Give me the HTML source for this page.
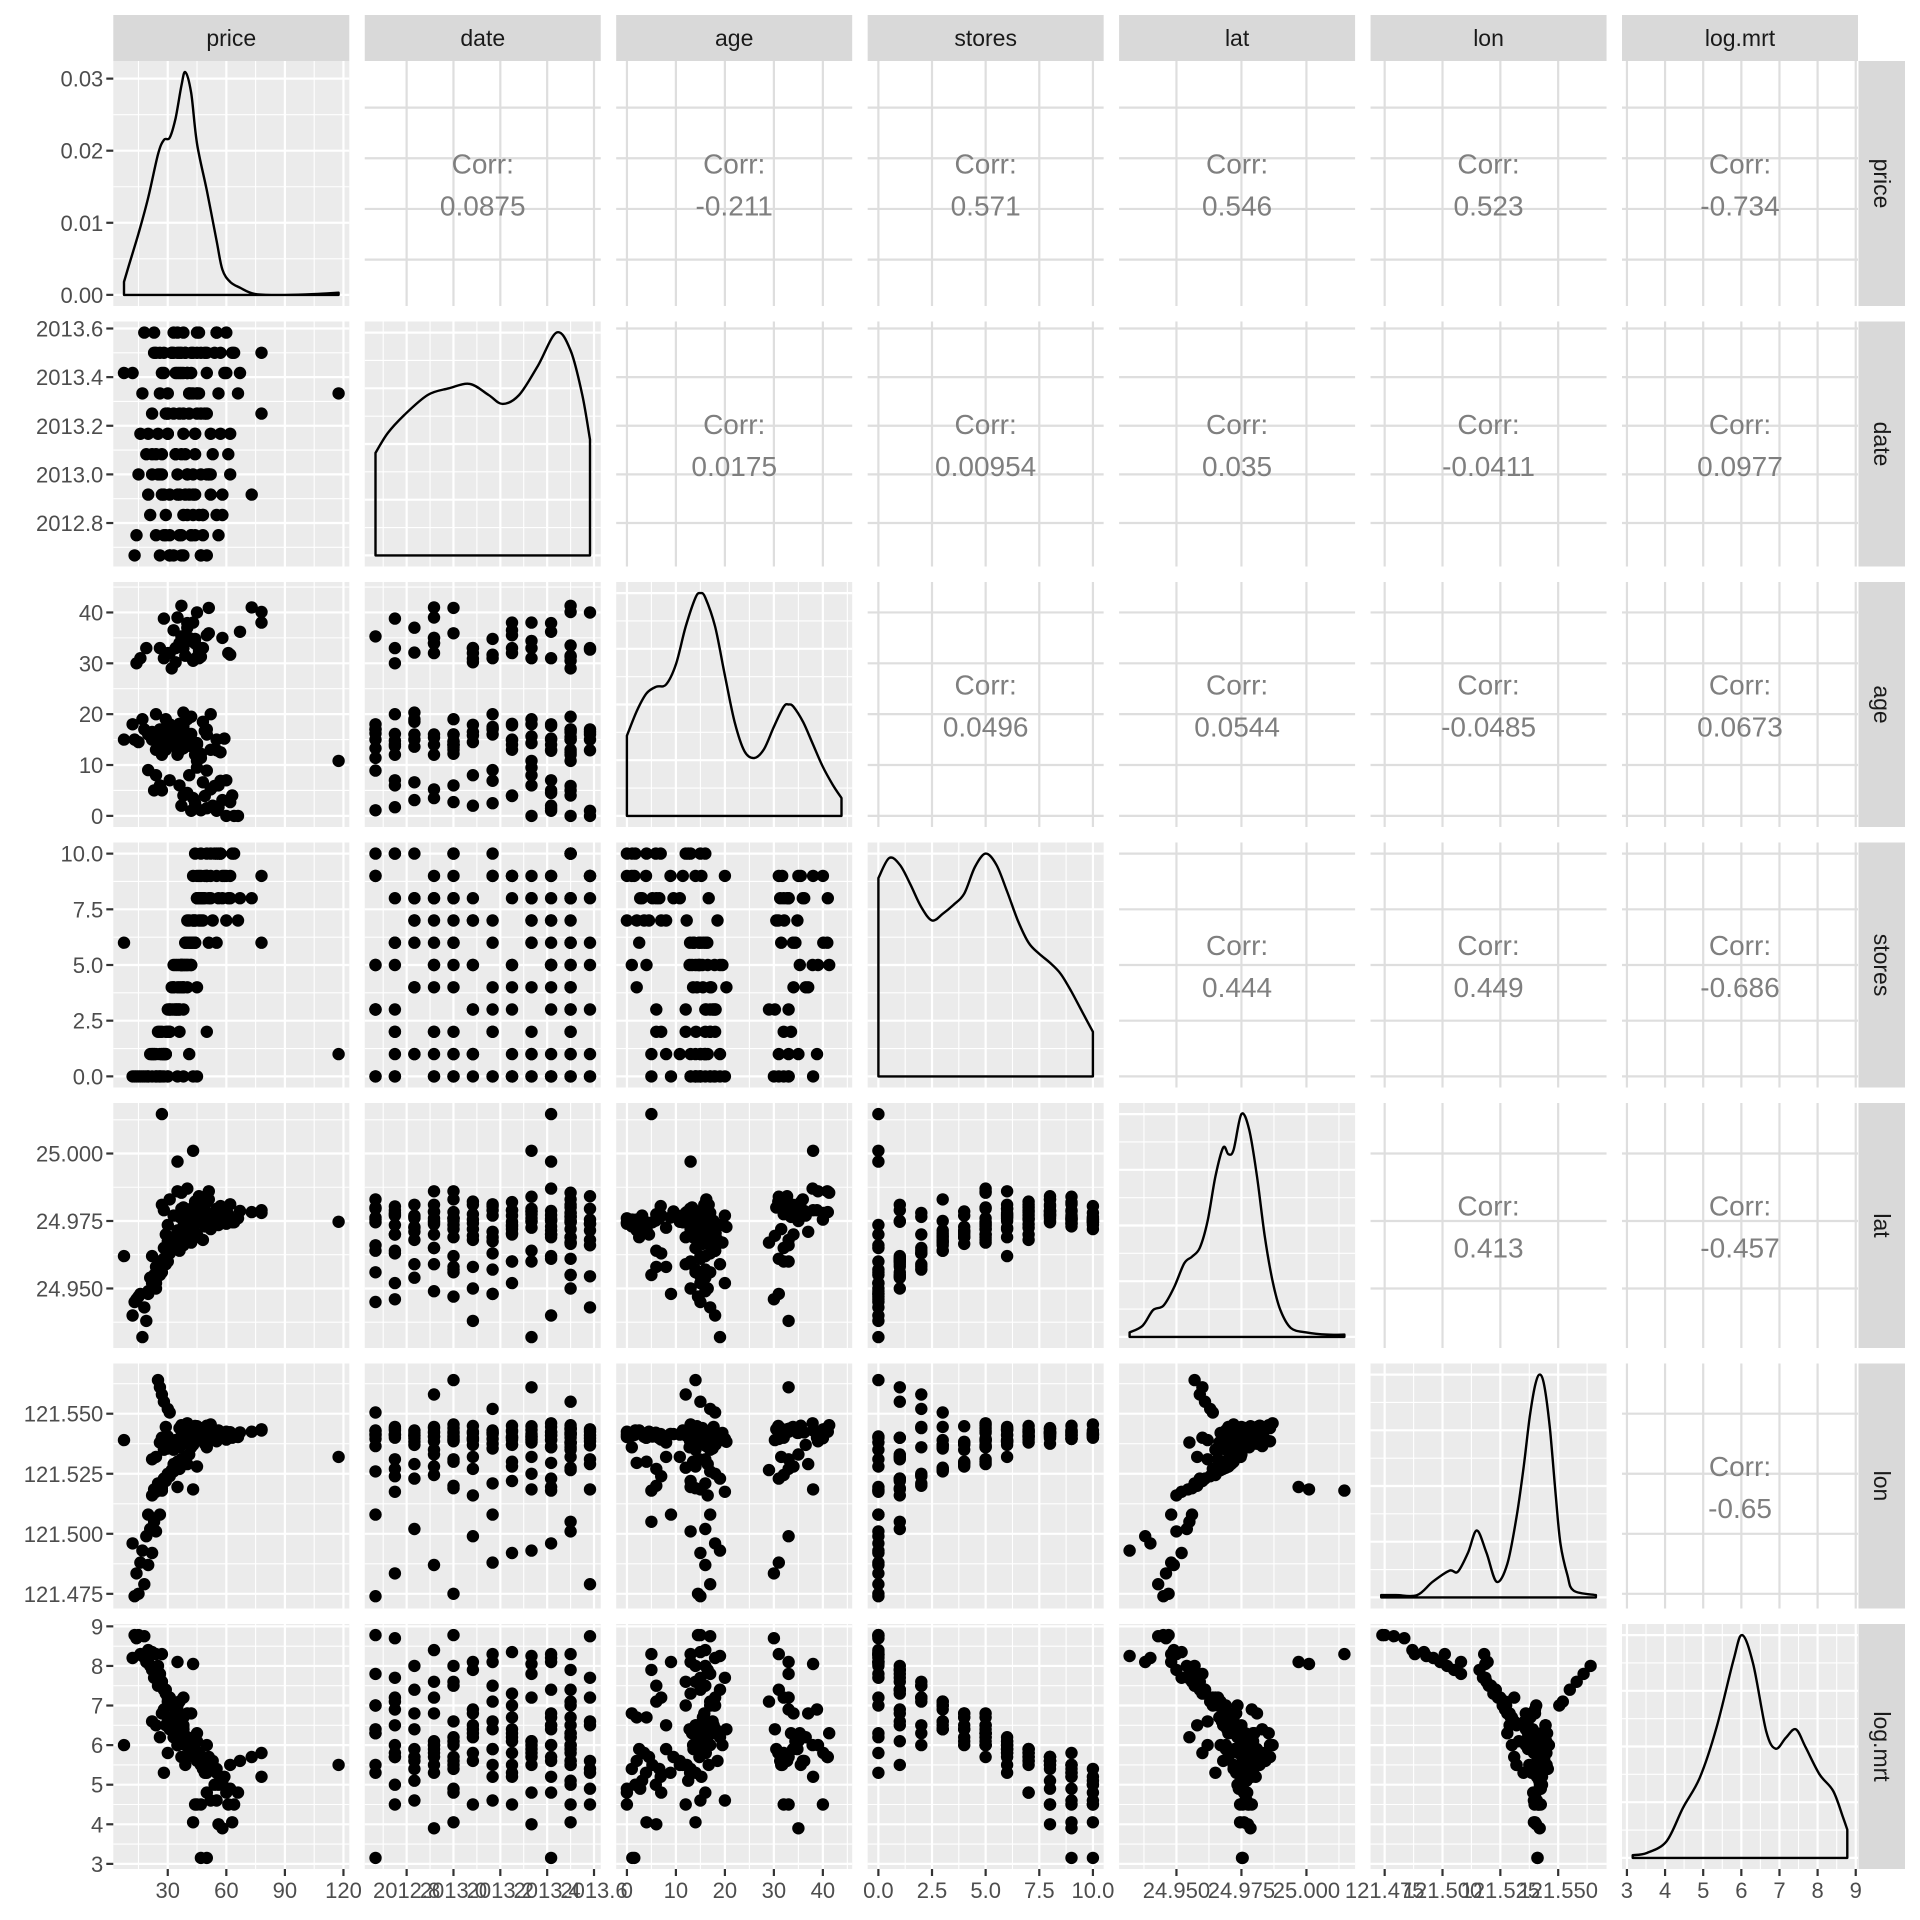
<!DOCTYPE html>
<html><head><meta charset="utf-8"><title>ggpairs</title>
<style>html,body{margin:0;padding:0;background:#fff}svg{display:block}text{font-family:"Liberation Sans",Arial,sans-serif}</style>
</head><body>
<svg id="chart" xmlns="http://www.w3.org/2000/svg" width="1920" height="1920" viewBox="0 0 1920 1920"></svg>
<script>
// ---- data ----
const varNames=['price','date','age','stores','lat','lon','log.mrt'];
const varMin=[7.6,2012.667,0,0,24.93207,121.47353,3.152];
const varMax=[117.5,2013.583,43.8,10,25.01459,121.56627,8.778];
const priceTicks=[30,60,90,120];
const dateTicks=[2012.8,2013.0,2013.2,2013.4,2013.6];
const ageTicks=[0,10,20,30,40];
const storesTicks=[0,2.5,5,7.5,10];
const latTicks=[24.95,24.975,25.0];
const lonTicks=[121.475,121.5,121.525,121.55];
const lmrtTicks=[3,4,5,6,7,8,9];
const priceLabels=['30','60','90','120'];
const dateLabels=['2012.8','2013.0','2013.2','2013.4','2013.6'];
const ageLabels=['0','10','20','30','40'];
const storesLabels=['0.0','2.5','5.0','7.5','10.0'];
const latLabels=['24.950','24.975','25.000'];
const lonLabels=['121.475','121.500','121.525','121.550'];
const lmrtLabels=['3','4','5','6','7','8','9'];
const corrPriceYTicks=[25,50,75,100];
const densTicks=[0,0.01,0.02,0.03];
const densLabels=['0.00','0.01','0.02','0.03'];
const priceDensMax=0.0309;
const corrValues=['0.0875','-0.211','0.571','0.546','0.523','-0.734',
 '0.0175','0.00954','0.035','-0.0411','0.0977',
 '0.0496','0.0544','-0.0485','0.0673',
 '0.444','0.449','-0.686',
 '0.413','-0.457',
 '-0.65'];
const priceDx=[7.6,10,15,20,25,28,31,34,37,39,42,45,50,55,58,62,67,75,90,105,117.5];
const priceDy=[0.0018,0.004,0.0085,0.0135,0.0195,0.0215,0.0218,0.0245,0.029,0.0309,0.028,0.021,0.0145,0.0075,0.0035,0.0018,0.001,0.0001,0.0,0.0001,0.0003];
const dateDx=[2012.667,2012.72,2012.79,2012.89,2012.98,2013.07,2013.15,2013.21,2013.28,2013.36,2013.44,2013.5,2013.55,2013.583];
const dateDy=[0.46,0.55,0.63,0.72,0.75,0.77,0.72,0.68,0.72,0.85,1.0,0.92,0.72,0.52];
const ageDx=[0,2,4,6,8,10,12,14,15,16,18,20,22,24,26,28,30,32,33,34,36,38,40,42,43.8];
const ageDy=[0.36,0.47,0.55,0.58,0.59,0.68,0.85,0.98,1.0,0.98,0.85,0.63,0.42,0.29,0.26,0.3,0.4,0.49,0.5,0.49,0.42,0.32,0.22,0.14,0.08];
const storesDx=[0,0.5,1,1.5,2,2.5,3,3.5,4,4.5,5,5.5,6,6.5,7,7.5,8,8.5,9,9.5,10];
const storesDy=[0.89,0.98,0.95,0.86,0.76,0.7,0.73,0.77,0.82,0.94,1.0,0.95,0.83,0.7,0.6,0.55,0.51,0.46,0.38,0.29,0.2];
const latDx=[24.932,24.937,24.941,24.945,24.949,24.953,24.956,24.959,24.962,24.965,24.968,24.970,24.972,24.975,24.978,24.981,24.984,24.987,24.990,24.994,25.0,25.008,25.0146];
const latDy=[0.02,0.05,0.12,0.14,0.22,0.33,0.36,0.4,0.52,0.72,0.85,0.82,0.84,1.0,0.93,0.72,0.45,0.25,0.12,0.04,0.02,0.01,0.01];
const lonDx=[121.4735,121.480,121.489,121.4957,121.503,121.5066,121.511,121.5148,121.519,121.5234,121.528,121.532,121.535,121.5377,121.540,121.542,121.544,121.5464,121.549,121.551,121.554,121.5567,121.5663];
const lonDy=[0.01,0.01,0.01,0.07,0.12,0.115,0.2,0.3,0.2,0.07,0.15,0.36,0.58,0.81,0.95,1.0,0.95,0.76,0.45,0.24,0.1,0.03,0.01];
const lmrtDx=[3.15,3.52,4.04,4.47,4.91,5.35,5.79,6.02,6.31,6.65,6.9,7.17,7.43,7.69,8.05,8.41,8.67,8.78];
const lmrtDy=[0.012,0.022,0.075,0.225,0.36,0.585,0.885,1.0,0.87,0.57,0.49,0.54,0.577,0.495,0.375,0.3,0.18,0.127];
// observations: [price, date, age, stores, lat, lon, log.mrt]
const observations=[
[47,2012.667,1.1,10,24.9755,121.5410,3.15],[50,2013.417,1.5,9,24.9752,121.5411,3.15],[43,2013.0,14,9,24.9760,121.5395,4.05],
[56,2013.333,6,8,24.9775,121.5405,4.0],[58,2012.917,35,9,24.9785,121.5420,3.9],[63,2013.5,4,10,24.9745,121.5400,4.05],
[44,2012.75,12,10,24.9780,121.5415,4.5],[52,2013.167,20,9,24.9770,121.5395,4.6],[47,2013.25,33,8,24.9790,121.5425,4.5],
[55,2012.833,15,10,24.9765,121.5408,4.6],[61,2013.083,32,8,24.9775,121.5418,4.5],[45,2013.583,40,9,24.9755,121.5398,4.5],
[50,2013.0,16,10,24.9760,121.5402,4.8],[60,2013.417,7,7,24.9772,121.5392,4.8],
[38,2012.667,13.3,5,24.9800,121.5395,6.3],[42,2012.75,16.1,6,24.9770,121.5410,5.8],[46,2012.833,32.1,7,24.9810,121.5430,5.7],
[52,2012.917,5.2,8,24.9745,121.5405,5.5],[40,2013.0,14.7,6,24.9760,121.5385,6.1],[37,2013.083,17.9,5,24.9720,121.5370,6.3],
[44,2013.167,34.8,7,24.9790,121.5420,5.9],[49,2013.25,3.9,9,24.9730,121.5400,5.3],[41,2013.333,15.6,6,24.9750,121.5390,6.0],
[36,2013.417,12.8,5,24.9700,121.5360,6.4],[47,2013.5,31.3,8,24.9830,121.5440,5.6],[55,2013.583,1.0,9,24.9740,121.5410,5.4],
[39,2013.5,16.4,6,24.9765,121.5380,6.2],[43,2013.5,30.5,7,24.9800,121.5435,5.9],[34,2013.417,14.0,5,24.9690,121.5365,6.5],
[45,2013.333,9.5,8,24.9785,121.5415,5.7],[50,2013.25,35.5,9,24.9820,121.5450,5.5],[38,2013.167,17.2,4,24.9710,121.5375,6.4],
[53,2013.083,2.0,7,24.9755,121.5425,5.6],[40,2013.0,19.0,5,24.9735,121.5390,6.2],[44,2012.917,33.9,6,24.9810,121.5445,5.9],
[48,2012.833,6.6,8,24.9760,121.5398,5.4],[42,2012.75,13.7,6,24.9775,121.5412,6.0],[37,2012.667,35.3,5,24.9795,121.5428,6.3],
[57,2013.5,12.5,10,24.9748,121.5418,5.1],[59,2013.417,15.2,9,24.9758,121.5408,5.2],[33,2013.5,17.0,4,24.9690,121.5350,6.5],
[46,2013.583,32.7,8,24.9842,121.5435,5.6],[41,2013.333,8.0,7,24.9725,121.5380,5.9],[51,2013.0,40.9,6,24.9860,121.5440,5.7],
[39,2013.083,14.5,5,24.9742,121.5395,6.2],[36,2013.25,18.1,3,24.9705,121.5372,6.4],[62,2013.167,31.7,9,24.9812,121.5423,5.5],
[43,2012.917,3.5,7,24.9738,121.5404,5.8],[48,2012.75,33.0,8,24.9804,121.5437,5.7],[45,2013.5,10.8,8,24.9768,121.5413,5.6],
[40,2013.417,37.9,5,24.9870,121.5460,6.0],[35,2013.583,16.0,3,24.9715,121.5368,6.6],[54,2013.5,5.9,10,24.9752,121.5421,5.0],
[42,2013.333,34.4,6,24.9795,121.5432,6.1],[47,2013.0,12.2,7,24.9783,121.5407,5.5],[38,2012.833,20.3,4,24.9728,121.5383,6.4],
[44,2013.083,30.9,7,24.9822,121.5449,5.8],[50,2012.667,8.9,9,24.9763,121.5416,5.3],[41,2013.25,14.9,5,24.9747,121.5391,6.1],
[37,2013.5,41.3,5,24.9855,121.5452,6.3],[67,2013.417,36.2,8,24.9787,121.5422,5.6],[78,2013.25,38.0,9,24.9790,121.5430,5.2],
[78,2013.5,40.1,6,24.9780,121.5435,5.8],[73,2012.917,41.0,8,24.9783,121.5425,5.7],[117.5,2013.333,10.8,1,24.9747,121.5320,5.5],
[7.6,2013.417,15.0,6,24.9620,121.5390,6.0],[30,2013.167,17.5,3,24.9675,121.5355,6.6],[32,2013.5,15.5,4,24.9665,121.5380,6.7],
[56,2012.75,1.7,10,24.9735,121.5430,5.0],[60,2013.583,0.0,9,24.9740,121.5425,4.9],[62,2013.0,2.7,8,24.9750,121.5419,4.9],
[64,2013.5,0.0,10,24.9745,121.5412,4.5],[66,2013.333,0.0,7,24.9760,121.5403,4.8],[58,2012.833,3.1,8,24.9770,121.5420,5.1],
[28,2012.917,14.0,0,24.9650,121.5350,5.3],[30,2013.25,32.0,0,24.9600,121.5400,5.8],[26,2013.5,15.0,0,24.9550,121.5380,6.2],
[24,2013.083,8.0,1,24.9580,121.5320,6.5],
[33,2012.667,17.0,3,24.9660,121.5260,7.0],[31,2012.75,7.0,2,24.9630,121.5240,7.2],[29,2012.833,19.0,1,24.9590,121.5230,7.4],
[36,2012.917,34.0,4,24.9700,121.5280,6.8],[27,2013.0,14.0,1,24.9560,121.5190,7.6],[34,2013.083,33.0,3,24.9680,121.5270,6.9],
[25,2013.167,16.0,2,24.9570,121.5210,7.5],[38,2013.25,4.0,5,24.9720,121.5300,6.7],[30,2013.333,18.0,2,24.9640,121.5250,7.2],
[28,2013.417,31.0,1,24.9610,121.5230,7.4],[35,2013.5,12.0,3,24.9690,121.5275,7.0],[23,2013.583,15.0,1,24.9545,121.5185,7.7],
[32,2013.5,29.0,3,24.9670,121.5265,7.1],[26,2013.0,6.0,2,24.9580,121.5200,7.5],[40,2012.833,37.0,4,24.9710,121.5290,6.8],
[29,2013.25,13.0,1,24.9600,121.5220,7.3],[24,2012.75,20.0,0,24.9520,121.5175,7.7],[37,2013.417,2.0,4,24.9715,121.5295,6.7],
[22,2013.083,16.5,1,24.9500,121.5160,7.9],[31,2012.917,32.0,2,24.9650,121.5245,7.2],
[30,2013.167,17.0,2,24.9630,121.5520,7.1],[28,2013.5,15.0,1,24.9610,121.5550,7.4],[27,2012.917,12.0,2,24.9590,121.5580,7.6],
[26,2013.333,33.0,1,24.9600,121.5610,7.8],[25,2013.0,14.0,0,24.9570,121.5640,8.0],[31,2012.667,18.0,3,24.9640,121.5505,7.0],
[13,2012.667,15.0,0,24.9450,121.4740,8.78],[15,2013.0,14.5,0,24.9470,121.4750,8.78],[18,2013.583,17.0,0,24.9430,121.4790,8.75],
[14,2012.75,30.0,0,24.9460,121.4835,8.70],[20,2012.917,16.0,0,24.9490,121.4870,8.4],[16,2013.167,31.0,0,24.9480,121.4880,8.3],
[22,2013.25,15.0,0,24.9520,121.4920,8.35],[12,2013.417,18.0,0,24.9400,121.4960,8.2],[24,2013.5,13.0,0,24.9500,121.5010,8.3],
[19,2013.083,33.0,0,24.9380,121.4990,8.1],[21,2012.833,16.0,1,24.9540,121.5020,8.0],[17,2013.333,19.0,0,24.9320,121.4930,8.25],
[23,2013.5,5.0,1,24.9550,121.5050,7.9],[26,2012.667,17.0,0,24.9560,121.5080,7.8],
[27,2013.417,5.0,0,25.0146,121.5180,8.3],[43,2013.333,38.0,0,25.0010,121.5185,8.05],[35,2013.417,13.0,0,24.9970,121.5195,8.1],
[35,2013.0,13.5,4,24.9690,121.5300,6.0],[33,2013.583,16.5,5,24.9680,121.5290,6.5],[37,2012.75,14.8,5,24.9700,121.5310,5.7],
[39,2013.5,31.5,6,24.9720,121.5320,5.5],
[31,2012.667,16.2,3,24.9830,121.5365,6.4],[29,2012.75,14.1,2,24.9700,121.5445,6.5],[48,2012.833,18.5,7,24.9680,121.5410,5.6],
[35,2012.917,39.0,5,24.9860,121.5385,6.0],[52,2013.0,13.0,10,24.9720,121.5455,5.4],[27,2013.083,15.8,1,24.9810,121.5400,6.8],
[44,2013.167,2.5,6,24.9690,121.5430,5.9],[33,2013.25,36.5,4,24.9770,121.5370,6.2],[46,2013.333,31.0,9,24.9840,121.5395,5.8],
[38,2013.417,17.7,3,24.9750,121.5445,6.5],[42,2013.5,19.5,5,24.9670,121.5420,6.0],[55,2013.583,12.9,6,24.9795,121.5385,5.3],
[36,2013.5,33.5,2,24.9765,121.5440,6.3],[49,2013.5,16.7,8,24.9810,121.5375,5.5],[40,2013.417,4.5,7,24.9700,121.5425,5.7],
[45,2013.333,14.3,4,24.9785,121.5448,6.1],[30,2013.25,17.8,0,24.9735,121.5405,7.0],[57,2013.167,6.9,10,24.9805,121.5415,5.2],
[34,2013.083,30.2,3,24.9695,121.5390,6.4],[51,2013.0,35.9,8,24.9830,121.5425,5.6],[39,2012.917,15.4,5,24.9760,121.5440,6.0],
[43,2012.833,13.6,6,24.9725,121.5370,5.9],[28,2012.75,38.8,1,24.9790,121.5400,6.9],[47,2012.667,11.4,9,24.9745,121.5430,5.5],
[22,2013.0,16.0,1,24.9620,121.5310,6.6],[45,2013.25,14.0,0,24.9700,121.5280,6.3],[41,2012.917,35.0,1,24.9750,121.5330,6.1],
[50,2013.5,17.0,2,24.9780,121.5360,6.0],[38,2013.583,33.0,0,24.9660,121.5310,7.2],[42,2013.417,1.0,5,24.9730,121.5360,6.8],
[36,2012.75,6.0,3,24.9640,121.5270,7.1],[20,2013.167,9.0,0,24.9480,121.5080,8.1]
];
// ---- layout ----
const NS='http://www.w3.org/2000/svg';
const svg=document.getElementById('chart');
const X0=113.3,CS=251.45,W=236,Y0=61,RS=260.5,H=245;
const ticksAll=[priceTicks,dateTicks,ageTicks,storesTicks,latTicks,lonTicks,lmrtTicks];
const labelsAll=[priceLabels,dateLabels,ageLabels,storesLabels,latLabels,lonLabels,lmrtLabels];
const densX=[priceDx,dateDx,ageDx,storesDx,latDx,lonDx,lmrtDx];
const densY=[priceDy.map(v=>v/priceDensMax),dateDy,ageDy,storesDy,latDy,lonDy,lmrtDy];
function lo(k){return varMin[k]-0.05*(varMax[k]-varMin[k]);}
function hi(k){return varMax[k]+0.05*(varMax[k]-varMin[k]);}
function sx(j,v){return X0+j*CS+(v-lo(j))/(hi(j)-lo(j))*W;}
function sy(i,v){return Y0+i*RS+H-(v-lo(i))/(hi(i)-lo(i))*H;}
function sd(i,d){return Y0+i*RS+H-(d+0.05)/1.1*H;}
function mk(tag,attrs,parent){const e=document.createElementNS(NS,tag);for(const k in attrs)e.setAttribute(k,attrs[k]);(parent||svg).appendChild(e);return e;}
function minors(t,a,b){const m=[];const s=t.length>1?t[1]-t[0]:1;const all=[t[0]-s].concat(t).concat([t[t.length-1]+s]);for(let q=0;q<all.length-1;q++){const v=(all[q]+all[q+1])/2;if(v>=a&&v<=b)m.push(v);}return m;}
function smooth(p){let d='';for(let q=0;q<p.length-1;q++){const p0=p[Math.max(0,q-1)],p1=p[q],p2=p[q+1],p3=p[Math.min(p.length-1,q+2)];
 const c1x=p1[0]+(p2[0]-p0[0])/6,c1y=p1[1]+(p2[1]-p0[1])/6,c2x=p2[0]-(p3[0]-p1[0])/6,c2y=p2[1]-(p3[1]-p1[1])/6;
 d+=' C'+c1x.toFixed(1)+','+c1y.toFixed(1)+' '+c2x.toFixed(1)+','+c2y.toFixed(1)+' '+p2[0].toFixed(1)+','+p2[1].toFixed(1);}return d;}
const diagYMajor=[0,0.25,0.5,0.75,1.0];
function diagMajors(i){return i===0?densTicks.map(v=>v/priceDensMax):diagYMajor;}

for(let i=0;i<7;i++){for(let j=0;j<7;j++){
  const px=X0+j*CS,py=Y0+i*RS;
  const g=mk('g',{});
  
  
  if(j>i){
    mk('rect',{x:px,y:py,width:W,height:H,fill:'#ffffff'},g);
    ticksAll[j].forEach(v=>{const x=sx(j,v);if(x>=px&&x<=px+W){const l=mk('line',{x1:x,x2:x,y1:py,y2:py+H,stroke:'#DEDEDE','stroke-width':2.2},g);}});
    const yt=i===0?corrPriceYTicks:ticksAll[i];
    yt.forEach(v=>{const y=sy(i,v);if(y>=py&&y<=py+H){const l=mk('line',{x1:px,x2:px+W,y1:y,y2:y,stroke:'#DEDEDE','stroke-width':2.2},g);}});
    let idx=0;for(let a=0;a<i;a++)idx+=6-a;idx+=j-i-1;
    const cx=px+W/2,cy=py+H/2;
    const t1=mk('text',{x:cx,y:cy-10,'text-anchor':'middle','font-size':28,fill:'#7F7F7F'},g);t1.textContent='Corr:';
    
    
    const t2=mk('text',{x:cx,y:cy+32,'text-anchor':'middle','font-size':28,fill:'#7F7F7F'},g);t2.textContent=corrValues[idx];
    
    
  } else {
    mk('rect',{x:px,y:py,width:W,height:H,fill:'#EBEBEB'},g);
    const xm=minors(ticksAll[j],lo(j),hi(j));
    xm.forEach(v=>{const x=sx(j,v);mk('line',{x1:x,x2:x,y1:py,y2:py+H,stroke:'#fff','stroke-width':1.1},g);});
    let ymaj,ymin,yf;
    if(i===j){ymaj=diagMajors(i);yf=d=>sd(i,d);const s=ymaj[1]-ymaj[0];ymin=[];for(let q=-1;q<ymaj.length;q++){const v=ymaj[0]+(q+0.5)*s;if(v>=-0.05&&v<=1.05)ymin.push(v);}}
    else{ymaj=ticksAll[i];yf=v=>sy(i,v);ymin=minors(ticksAll[i],lo(i),hi(i));}
    ymin.forEach(v=>{const y=yf(v);if(y>=py&&y<=py+H)mk('line',{x1:px,x2:px+W,y1:y,y2:y,stroke:'#fff','stroke-width':1.1},g);});
    ymaj.forEach(v=>{const y=yf(v);if(y>=py&&y<=py+H)mk('line',{x1:px,x2:px+W,y1:y,y2:y,stroke:'#fff','stroke-width':2.2},g);});
    ticksAll[j].forEach(v=>{const x=sx(j,v);if(x>=px&&x<=px+W)mk('line',{x1:x,x2:x,y1:py,y2:py+H,stroke:'#fff','stroke-width':2.2},g);});
    if(i===j){
      const dx=densX[i],dy=densY[i];
      const pts=[];
      for(let q=0;q<dx.length;q++)pts.push([sx(j,dx[q]),sd(i,dy[q])]);
      const x0=sx(j,dx[0]),x1=sx(j,dx[dx.length-1]),yb0=sd(i,0);
      const dstr='M'+x0.toFixed(1)+','+yb0.toFixed(1)+' L'+pts[0][0].toFixed(1)+','+pts[0][1].toFixed(1)+smooth(pts)+' L'+x1.toFixed(1)+','+yb0.toFixed(1)+' Z';
      const p=mk('path',{d:dstr,fill:'none',stroke:'#000','stroke-width':2.4,'stroke-linejoin':'round'},g);
      
      
    } else {
      observations.forEach(o=>{
        const c=mk('circle',{cx:sx(j,o[j]).toFixed(1),cy:sy(i,o[i]).toFixed(1),r:6.2,fill:'#000'},g);
        
        
      });
    }
  }
}}
// strips
for(let j=0;j<7;j++){
  const px=X0+j*CS;
  const r=mk('rect',{x:px,y:15,width:W,height:46,fill:'#D9D9D9'});
  
  
  const t=mk('text',{x:px+W/2,y:46,'text-anchor':'middle','font-size':23,fill:'#1A1A1A'});t.textContent=varNames[j];
  
  
}
for(let i=0;i<7;i++){
  const py=Y0+i*RS;
  const r=mk('rect',{x:1858.5,y:py,width:46.5,height:H,fill:'#D9D9D9'});
  
  
  const t=mk('text',{x:0,y:0,'text-anchor':'middle','font-size':23,fill:'#1A1A1A',transform:'translate('+(1874)+','+(py+H/2)+') rotate(90)'});t.textContent=varNames[i];
  
  
}
// left axes
for(let i=0;i<7;i++){
  const py=Y0+i*RS;
  const tv=i===0?densTicks:ticksAll[i];
  const tl=i===0?densLabels:labelsAll[i];
  tv.forEach((v,k)=>{
    const y=i===0?sd(0,v/priceDensMax):sy(i,v);
    if(y<py-1||y>py+H+1)return;
    mk('line',{x1:X0-7,x2:X0,y1:y,y2:y,stroke:'#333','stroke-width':2.2});
    const t=mk('text',{x:X0-10,y:y+8,'text-anchor':'end','font-size':22,fill:'#4D4D4D'});t.textContent=tl[k];
    
    
  });
}
// bottom axes
const yb=Y0+6*RS+H;
for(let j=0;j<7;j++){
  ticksAll[j].forEach((v,k)=>{
    const x=sx(j,v);
    if(x<X0+j*CS-1||x>X0+j*CS+W+1)return;
    mk('line',{x1:x,x2:x,y1:yb,y2:yb+7,stroke:'#333','stroke-width':2.2});
    const t=mk('text',{x:x,y:yb+29,'text-anchor':'middle','font-size':22,fill:'#4D4D4D'});t.textContent=labelsAll[j][k];
    
    
  });
}
</script>
</body></html>
